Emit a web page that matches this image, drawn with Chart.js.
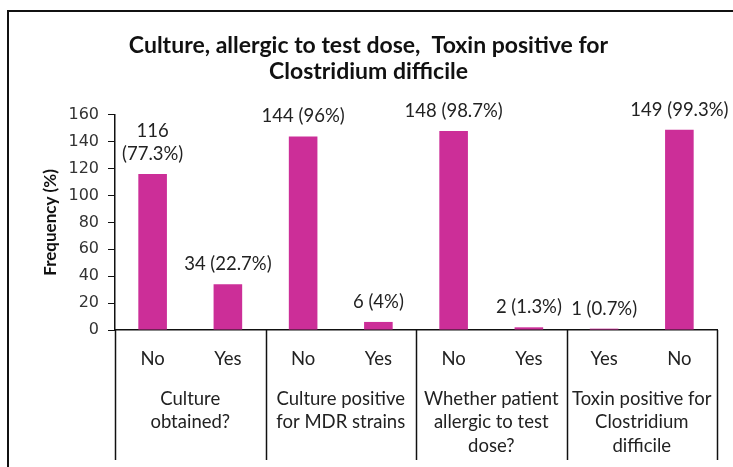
<!DOCTYPE html>
<html>
<head>
<meta charset="utf-8">
<script src="https://cdn.jsdelivr.net/npm/chart.js@4.4.1/dist/chart.umd.min.js"></script>
<style>
  html, body { margin: 0; padding: 0; background: #fff; }
  canvas { display: block; }
</style>
</head>
<body>
<canvas id="chart" width="733" height="467"></canvas>
<script>
'use strict';

// answers under each bar, and the question each pair belongs to
const answers = ['No', 'Yes', 'No', 'Yes', 'No', 'Yes', 'Yes', 'No'];
const questions = [
  ['Culture', 'obtained?'],
  ['Culture positive', 'for MDR strains'],
  ['Whether patient', 'allergic to test', 'dose?'],
  ['Toxin positive for', 'Clostridium', 'difficile'],
];
const counts = [116, 34, 144, 6, 148, 2, 1, 149];
const percents = ['77.3', '22.7', '96', '4', '98.7', '1.3', '0.7', '99.3'];
const yMax = 160;
const yStep = 20;

const barColor = '#CC2E98';
const textFont = 'Lato';

// first label is too wide for its slot, so it goes on two lines
const valueLabels = counts.map((c, i) =>
  i === 0 ? [String(c), '(' + percents[i] + '%)'] : [c + ' (' + percents[i] + '%)']
);

const canvasElem = document.getElementById('chart');

const frame = {
  id: 'frame',
  beforeDraw(chart) {
    const ctx = chart.ctx;
    ctx.save();
    ctx.strokeStyle = '#111';
    ctx.lineWidth = 2;
    ctx.beginPath();
    ctx.moveTo(8, chart.height);
    ctx.lineTo(8, 11);
    ctx.lineTo(chart.width, 11);
    ctx.stroke();
    ctx.restore();
  },
};

const groups = {
  id: 'groups',
  afterDraw(chart) {
    const ctx = chart.ctx;
    const x = chart.scales.x;
    const area = chart.chartArea;
    const bottom = 460;
    ctx.save();

    // vertical separators between the question groups
    const edges = [area.left];
    for (let g = 1; g < questions.length; g++) {
      edges.push((x.getPixelForValue(g * 2 - 1) + x.getPixelForValue(g * 2)) / 2);
    }
    edges.push(area.right);
    ctx.strokeStyle = '#111';
    ctx.lineWidth = 1.5;
    edges.forEach(px => {
      ctx.beginPath();
      ctx.moveTo(Math.round(px) + 0.5, area.bottom);
      ctx.lineTo(Math.round(px) + 0.5, bottom);
      ctx.stroke();
    });

    // question text centred under each pair
    ctx.fillStyle = '#222';
    ctx.font = '18.5px ' + textFont;
    ctx.textAlign = 'center';
    ctx.textBaseline = 'middle';
    questions.forEach((lines, g) => {
      const cx = (x.getPixelForValue(g * 2) + x.getPixelForValue(g * 2 + 1)) / 2;
      lines.forEach((line, j) => ctx.fillText(line, cx, 399 + j * 23.5));
    });

    // value labels above the bars
    const meta = chart.getDatasetMeta(0);
    ctx.font = '18.5px ' + textFont;
    meta.data.forEach((bar, i) => {
      const lines = valueLabels[i];
      lines.forEach((line, j) => {
        const y = bar.y - 20 - (lines.length - 1 - j) * 23;
        ctx.fillText(line, bar.x, y);
      });
    });
    ctx.restore();
  },
};

const config = {
  type: 'bar',
  data: {
    labels: answers,
    datasets: [
      {
        label: 'Frequency',
        data: counts,
        backgroundColor: barColor,
        borderWidth: 0,
        categoryPercentage: 1,
        barPercentage: 0.38,
      },
    ],
  },
  options: {
    responsive: false,
    animation: false,
    layout: { padding: { left: 20, right: 16, top: 0, bottom: 0 } },
    plugins: {
      legend: { display: false },
      tooltip: { enabled: false },
      title: {
        display: true,
        text: ['Culture, allergic to test dose,  Toxin positive for', 'Clostridium difficile'],
        color: '#111',
        font: { family: textFont, size: 23, weight: 'bold', lineHeight: 1.15 },
        padding: { top: 32, bottom: 30 },
      },
    },
    scales: {
      x: {
        grid: { display: false, drawTicks: false },
        border: { display: true, color: '#111', width: 1.5 },
        ticks: {
          color: '#222',
          font: { family: textFont, size: 18.5 },
          padding: 18,
          maxRotation: 0,
          autoSkip: false,
        },
        afterFit(scale) { scale.height = 137; },
      },
      y: {
        min: 0,
        max: yMax,
        grid: { drawOnChartArea: false, drawTicks: true, tickLength: 7, color: '#111' },
        border: { display: true, color: '#111', width: 1.5 },
        ticks: {
          stepSize: yStep,
          color: '#333',
          font: { family: 'DejaVu Sans', size: 16 },
          padding: 9,
        },
        title: {
          display: true,
          text: 'Frequency (%)',
          color: '#111',
          font: { family: textFont, size: 17, weight: 'bold' },
          padding: { top: 20, bottom: 0 },
        },
        afterFit(scale) { scale.width = 95; },
      },
    },
  },
  plugins: [frame, groups],
};

new Chart(canvasElem, config);
</script>
</body>
</html>
